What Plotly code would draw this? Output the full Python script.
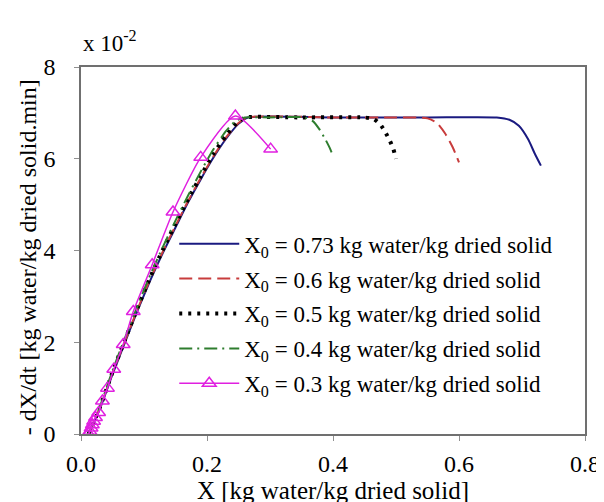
import plotly.graph_objects as go

# Values of -dX/dt are in units of 1e-2 kg water/kg dried solid.min
x_073 = [0.012, 0.03, 0.05, 0.07, 0.09, 0.11, 0.13, 0.15, 0.17, 0.19, 0.21, 0.23, 0.25, 0.265, 0.40, 0.55, 0.66, 0.68, 0.695, 0.71, 0.72, 0.73]
y_073 = [0.0, 0.55, 1.3, 2.0, 2.7, 3.35, 3.95, 4.5, 5.05, 5.55, 6.02, 6.43, 6.76, 6.9, 6.9, 6.9, 6.9, 6.85, 6.72, 6.42, 6.12, 5.85]

x_06 = [0.012, 0.03, 0.05, 0.07, 0.09, 0.11, 0.13, 0.15, 0.17, 0.19, 0.21, 0.23, 0.25, 0.264, 0.40, 0.50, 0.55, 0.565, 0.578, 0.59, 0.60]
y_06 = [0.0, 0.57, 1.33, 2.03, 2.73, 3.38, 3.98, 4.54, 5.08, 5.58, 6.05, 6.46, 6.78, 6.9, 6.9, 6.9, 6.88, 6.78, 6.55, 6.25, 5.92]

x_05 = [0.012, 0.03, 0.05, 0.07, 0.09, 0.11, 0.13, 0.15, 0.17, 0.19, 0.21, 0.23, 0.25, 0.262, 0.35, 0.45, 0.465, 0.475, 0.483, 0.49, 0.496, 0.50]
y_05 = [0.0, 0.58, 1.35, 2.06, 2.76, 3.42, 4.02, 4.58, 5.12, 5.62, 6.1, 6.5, 6.82, 6.9, 6.9, 6.9, 6.86, 6.75, 6.58, 6.4, 6.2, 6.0]

x_04 = [0.012, 0.03, 0.05, 0.07, 0.09, 0.11, 0.13, 0.15, 0.17, 0.19, 0.21, 0.23, 0.245, 0.26, 0.30, 0.355, 0.368, 0.378, 0.388, 0.396, 0.40]
y_04 = [0.0, 0.6, 1.38, 2.1, 2.8, 3.47, 4.08, 4.65, 5.2, 5.72, 6.2, 6.6, 6.82, 6.9, 6.9, 6.9, 6.82, 6.65, 6.42, 6.2, 6.05]

x_03 = [0.012, 0.014, 0.016, 0.018, 0.02, 0.023, 0.028, 0.034, 0.042, 0.052, 0.067, 0.083, 0.113, 0.146, 0.19, 0.245, 0.301]
y_03 = [0.0, 0.06, 0.13, 0.2, 0.28, 0.36, 0.47, 0.72, 1.0, 1.41, 1.95, 2.67, 3.69, 4.84, 6.03, 6.93, 6.21]

x_ticks = [0.0, 0.2, 0.4, 0.6, 0.8]
y_ticks = [0, 2, 4, 6, 8]

labels = [
    "X<sub>0</sub> = 0.73 kg water/kg dried solid",
    "X<sub>0</sub> = 0.6 kg water/kg dried solid",
    "X<sub>0</sub> = 0.5 kg water/kg dried solid",
    "X<sub>0</sub> = 0.4 kg water/kg dried solid",
    "X<sub>0</sub> = 0.3 kg water/kg dried solid",
]
x_title = "X [kg water/kg dried solid]"
y_title = "- dX/dt [kg water/kg dried solid.min]"
scale_note = "x 10<sup>-2</sup>"

FONT = "Liberation Serif"

fig = go.Figure()
fig.add_trace(go.Scatter(x=x_073, y=y_073, mode="lines", name=labels[0], legendgroup="a",
                         line=dict(color="#1a1a80", width=2, shape="spline", smoothing=0.6)))
fig.add_trace(go.Scatter(x=x_06, y=y_06, mode="lines", name=labels[1], legendgroup="b",
                         line=dict(color="#c83c3c", width=2, dash="13px,6px", shape="spline", smoothing=0.6)))
fig.add_trace(go.Scatter(x=x_05, y=y_05, mode="lines", name=labels[2], legendgroup="c",
                         line=dict(color="#000000", width=4, dash="3px,6px", shape="spline", smoothing=0.6)))
fig.add_trace(go.Scatter(x=x_04, y=y_04, mode="lines", name=labels[3], legendgroup="d",
                         line=dict(color="#2e7d2e", width=2, dash="13px,5px,2px,5px", shape="spline", smoothing=0.6)))
fig.add_trace(go.Scatter(x=x_03, y=y_03, mode="lines+markers", name=labels[4], legendgroup="e",
                         line=dict(color="#e020e0", width=1.5, shape="spline", smoothing=0.6),
                         marker=dict(symbol="triangle-up-open", size=12, color="#e020e0",
                                     line=dict(width=1.5, color="#e020e0"))))

axis_common = dict(
    showline=True, linecolor="#707070", linewidth=1.5, mirror=True,
    ticks="outside", ticklen=5, tickcolor="#909090", tickwidth=1.2,
    showgrid=False, zeroline=False,
    tickfont=dict(family=FONT, size=24, color="#000000"),
)

fig.update_layout(
    width=604, height=502,
    margin=dict(l=73, r=17, t=59, b=74),
    paper_bgcolor="white", plot_bgcolor="white",
    font=dict(family=FONT, size=24, color="#000000"),
    xaxis=dict(range=[0, 0.8], tickvals=x_ticks, tickformat=".1f",
               title=dict(text=x_title, standoff=4,
                          font=dict(family=FONT, size=25, color="#000000")),
               ticklabelstandoff=2, **axis_common),
    yaxis=dict(range=[0, 8], tickvals=y_ticks, ticklabelstandoff=14, **axis_common),
    legend=dict(x=0.185, y=0.577, xanchor="left", yanchor="top",
                bgcolor="rgba(0,0,0,0)", borderwidth=0, traceorder="grouped",
                font=dict(family=FONT, size=23, color="#000000"), itemwidth=60, tracegroupgap=2),
    showlegend=True,
)

fig.add_annotation(text=y_title, xref="paper", yref="paper",
                   x=-0.105, y=0.482, xanchor="center", yanchor="middle", textangle=-90,
                   showarrow=False, font=dict(family=FONT, size=24, color="#000000"))

fig.add_annotation(text=scale_note, xref="paper", yref="paper",
                   x=0.0, y=1.07, xanchor="left", yanchor="middle",
                   showarrow=False, font=dict(family=FONT, size=23, color="#000000"))

fig.write_html("out.html")
